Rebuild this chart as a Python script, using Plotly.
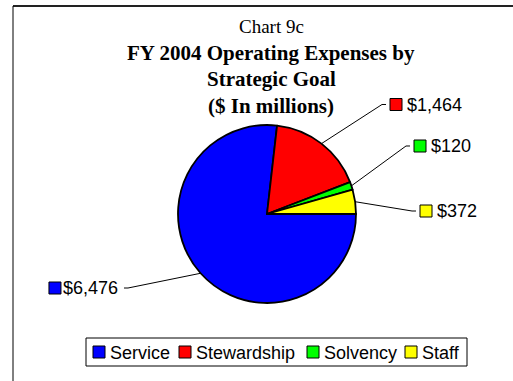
import math
import plotly.graph_objects as go

# FY 2004 operating expenses by strategic goal ($ in millions)
goals = ["Service", "Stewardship", "Solvency", "Staff"]
expenses = [6476, 1464, 120, 372]
value_labels = ["$6,476", "$1,464", "$120", "$372"]
slice_colors = ["#0000FF", "#FF0000", "#00FF00", "#FFFF00"]

W, H = 513, 381
CX, CY, R = 267, 214, 89          # pie centre and radius, px


def px(x):
    return x / W


def py(y):
    return 1 - y / H


fig = go.Figure()
fig.add_trace(go.Pie(
    labels=goals,
    values=expenses,
    sort=False,
    direction="clockwise",
    rotation=90,
    marker=dict(colors=slice_colors, line=dict(color="black", width=1.8)),
    textinfo="none",
    hoverinfo="label+value",
    showlegend=False,
    domain=dict(x=[px(CX - R), px(CX + R)], y=[py(CY + R), py(CY - R)]),
))

shapes = []
annotations = []

# Frame around the chart area (open at right and bottom)
shapes.append(dict(type="line", xref="paper", yref="paper",
                   x0=px(13), y0=py(6), x1=1, y1=py(6),
                   line=dict(color="#222", width=2)))
shapes.append(dict(type="line", xref="paper", yref="paper",
                   x0=px(13), y0=py(6), x1=px(13), y1=0,
                   line=dict(color="black", width=1)))

# Title block
annotations.append(dict(text="Chart 9c", x=px(271), y=py(26), xref="paper", yref="paper",
                        showarrow=False, xanchor="center", yanchor="middle",
                        font=dict(family="Liberation Serif", size=19, color="black")))
for line_text, ypos in [("FY 2004 Operating Expenses by", 53),
                        ("Strategic Goal", 79),
                        ("($ In millions)", 106)]:
    annotations.append(dict(text="<b>%s</b>" % line_text, x=px(271), y=py(ypos),
                            xref="paper", yref="paper", showarrow=False,
                            xanchor="center", yanchor="middle",
                            font=dict(family="Liberation Serif", size=21, color="black")))

# Data labels with leader lines: elbow point and label side for each slice
label_layout = {
    "Service": dict(elbow=(128, 288), side=-1),
    "Stewardship": dict(elbow=(382, 104.5), side=1),
    "Solvency": dict(elbow=(406, 146), side=1),
    "Staff": dict(elbow=(412, 211), side=1),
}

total = sum(expenses)
cum = 0.0
for goal, val, text, col in zip(goals, expenses, value_labels, slice_colors):
    mid = (cum + val / 2) / total
    cum += val
    ang = 2 * math.pi * mid            # clockwise from 3 o'clock
    sx = CX + R * math.cos(ang)
    sy = CY + R * math.sin(ang)
    ex, ey = label_layout[goal]["elbow"]
    side = label_layout[goal]["side"]
    hx = ex + 4 * side
    shapes.append(dict(type="path", xref="paper", yref="paper",
                       path="M %f,%f L %f,%f L %f,%f" % (px(sx), py(sy), px(ex), py(ey), px(hx), py(ey)),
                       line=dict(color="black", width=1)))
    if side > 0:
        sq0 = hx + 4
        txt_x = sq0 + 15
        anchor = "left"
    else:
        txt_x = hx - 4
        anchor = "right"
        # key square sits left of the text; text width from Arial metrics
        tw = 0.556 * 18 * 5 + 0.278 * 18
        sq0 = txt_x - tw - 16
    annotations.append(dict(text=text, x=px(txt_x), y=py(ey), xref="paper", yref="paper",
                            showarrow=False, xanchor=anchor, yanchor="middle",
                            font=dict(family="Liberation Sans", size=18, color="black")))
    shapes.append(dict(type="rect", xref="paper", yref="paper",
                       x0=px(sq0), x1=px(sq0 + 12), y0=py(ey - 6), y1=py(ey + 6),
                       fillcolor=col, line=dict(color="black", width=1)))

# Legend row
shapes.append(dict(type="rect", xref="paper", yref="paper",
                   x0=px(86), x1=px(467), y0=py(366), y1=py(338),
                   fillcolor="rgba(0,0,0,0)", line=dict(color="black", width=1)))
legend_x = [93, 179, 307, 405]
for goal, col, lx in zip(goals, slice_colors, legend_x):
    shapes.append(dict(type="rect", xref="paper", yref="paper",
                       x0=px(lx), x1=px(lx + 12), y0=py(358), y1=py(346),
                       fillcolor=col, line=dict(color="black", width=1)))
    annotations.append(dict(text=goal, x=px(lx + 15), y=py(352.5), xref="paper", yref="paper",
                            showarrow=False, xanchor="left", yanchor="middle",
                            font=dict(family="Liberation Sans", size=18, color="black")))

fig.update_layout(
    width=W, height=H, autosize=False,
    margin=dict(l=0, r=0, t=0, b=0),
    paper_bgcolor="white", plot_bgcolor="white",
    shapes=shapes, annotations=annotations,
)

fig.write_html("out.html", config={"displayModeBar": False})
